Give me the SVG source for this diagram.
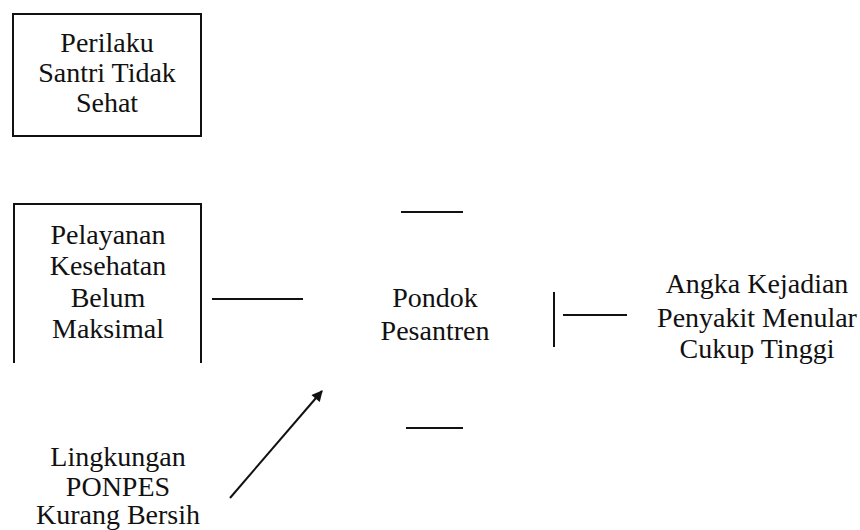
<svg xmlns="http://www.w3.org/2000/svg" width="860" height="530" viewBox="0 0 860 530">
  <style>
    .lbl { font-family: 'Liberation Serif', 'DejaVu Serif', 'Times New Roman', serif; font-size: 28px; fill: #111; text-anchor: middle; }
    .box { fill: none; stroke: #111; stroke-width: 2; }
    .ln { stroke: #111; stroke-width: 2; fill: none; }
  </style>
  <defs>
    <marker id="arrow" viewBox="0 0 10 10" refX="9" refY="5" markerWidth="15" markerHeight="11" markerUnits="userSpaceOnUse" orient="auto">
      <path d="M0,0 L10,5 L0,10 z" fill="#111"/>
    </marker>
  </defs>
  <rect width="860" height="530" fill="#fff"/>

  <g id="perilaku">
    <rect class="box" x="13" y="14" width="188" height="122"/>
    <text class="lbl" x="107" y="52" font-family="Liberation Serif, serif">Perilaku</text>
    <text class="lbl" x="107" y="82" font-family="Liberation Serif, serif">Santri Tidak</text>
    <text class="lbl" x="107" y="112" font-family="Liberation Serif, serif">Sehat</text>
  </g>

  <g id="pelayanan">
    <path class="box" d="M14,363 V204 H201 V363"/>
    <text class="lbl" x="108" y="244">Pelayanan</text>
    <text class="lbl" x="108" y="275">Kesehatan</text>
    <text class="lbl" x="108" y="307">Belum</text>
    <text class="lbl" x="108" y="338">Maksimal</text>
  </g>

  <g id="pondok">
    <text class="lbl" x="435" y="307">Pondok</text>
    <text class="lbl" x="435" y="340">Pesantren</text>
  </g>

  <g id="angka">
    <text class="lbl" x="757" y="293">Angka Kejadian</text>
    <text class="lbl" x="757" y="327">Penyakit Menular</text>
    <text class="lbl" x="757" y="358">Cukup Tinggi</text>
  </g>

  <g id="lingkungan">
    <text class="lbl" x="118" y="466">Lingkungan</text>
    <text class="lbl" x="118" y="496">PONPES</text>
    <text class="lbl" x="118" y="524">Kurang Bersih</text>
  </g>

  <g id="connectors">
    <line class="ln" x1="212" y1="299" x2="303" y2="299"/>
    <line class="ln" x1="401" y1="212" x2="463" y2="212"/>
    <line class="ln" x1="406" y1="428" x2="463" y2="428"/>
    <line class="ln" x1="554" y1="292" x2="554" y2="347"/>
    <line class="ln" x1="563" y1="315" x2="627" y2="315"/>
    <line class="ln" x1="230" y1="498" x2="322" y2="391" marker-end="url(#arrow)"/>
  </g>
</svg>
